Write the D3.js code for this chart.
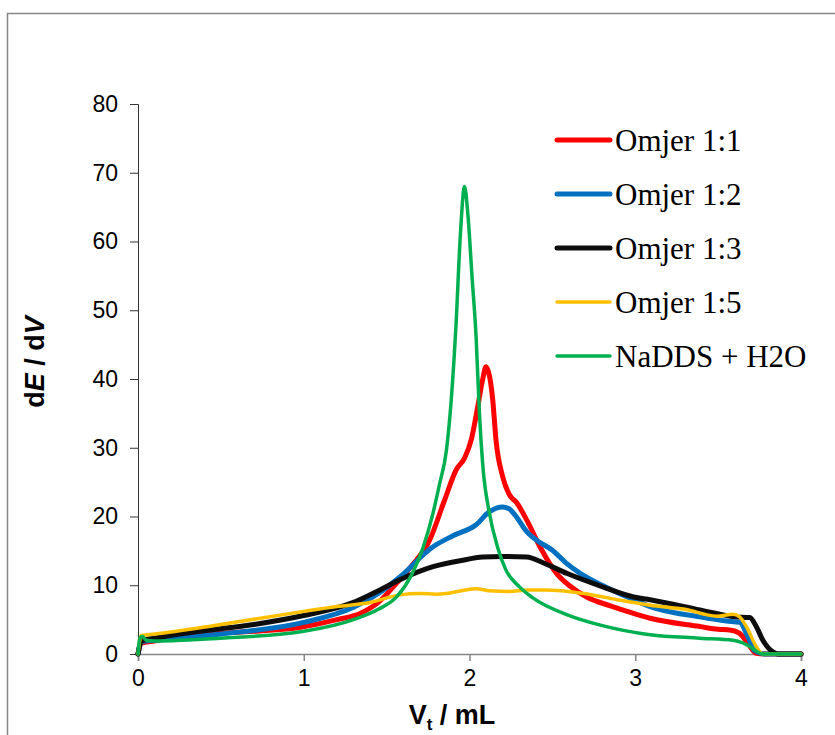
<!DOCTYPE html>
<html><head><meta charset="utf-8">
<script src="https://cdn.jsdelivr.net/npm/d3@7"></script>
<style>body{margin:0;background:#fff}</style>
</head><body>
<svg id="c" width="835" height="735"></svg>
<script>
const xTicks = [0, 1, 2, 3, 4];
const yTicks = [0, 10, 20, 30, 40, 50, 60, 70, 80];
const seriesNames = ["Omjer 1:1", "Omjer 1:2", "Omjer 1:3", "Omjer 1:5", "NaDDS + H2O"];
const seriesColors = ["#FF0000", "#0070C0", "#0D0D0D", "#FFC000", "#00B050"];
const seriesWidths = [5, 5, 5, 3.5, 3.5];

const omjer11 = [[0,0],[0.02,1.6],[0.1,1.9],[0.37,2.8],[0.7,3.3],[0.98,3.9],[1.2,5.0],[1.34,5.9],[1.45,7.5],[1.56,10.3],[1.65,12.8],[1.76,16.6],[1.85,22.4],[1.92,26.8],[1.97,28.5],[2.01,31.1],[2.05,36],[2.08,40],[2.10,41.8],[2.12,40.5],[2.14,37],[2.16,31.1],[2.20,25.8],[2.24,23.2],[2.285,22.0],[2.345,19.5],[2.425,15.6],[2.526,11.7],[2.6,10],[2.707,8.3],[2.85,7],[2.99,5.9],[3.09,5.2],[3.39,4.0],[3.5,3.6],[3.57,3.5],[3.63,3.0],[3.68,1.5],[3.73,0.1],[3.8,0],[4,0]];
const omjer12 = [[0,0],[0.02,1.8],[0.1,2.0],[0.5,2.9],[1.0,4.6],[1.3,6.8],[1.45,8.8],[1.58,11.2],[1.78,15.6],[1.9,17.2],[2.04,18.8],[2.12,20.7],[2.20,21.4],[2.24,21.1],[2.275,20.2],[2.345,17.8],[2.42,16.3],[2.50,15.1],[2.58,13.3],[2.67,11.7],[2.8,10.0],[2.99,7.9],[3.09,6.9],[3.39,5.4],[3.55,4.8],[3.63,4.6],[3.68,2.5],[3.72,0.5],[3.78,0],[4,0]];
const omjer13 = [[0,0],[0.02,1.9],[0.1,2.3],[0.37,3.3],[0.7,4.3],[1.0,5.6],[1.3,7.5],[1.45,9.2],[1.58,10.8],[1.78,12.7],[1.95,13.6],[2.08,14.1],[2.2,14.2],[2.345,14.1],[2.45,13.2],[2.59,11.7],[2.8,9.8],[2.99,8.3],[3.09,7.9],[3.39,6.4],[3.49,5.9],[3.6,5.4],[3.69,5.3],[3.73,4.0],[3.77,2.0],[3.83,0.3],[3.86,0],[4,0]];
const omjer15 = [[0,0],[0.02,2.7],[0.1,2.9],[0.5,4.3],[1.0,6.2],[1.2,6.9],[1.4,7.5],[1.58,8.6],[1.7,8.8],[1.8,8.7],[1.86,8.8],[1.95,9.2],[2.04,9.5],[2.12,9.2],[2.24,9.1],[2.35,9.3],[2.45,9.3],[2.69,8.8],[2.89,7.9],[3.09,7.1],[3.3,6.5],[3.49,5.5],[3.59,5.8],[3.63,5.4],[3.67,4.0],[3.73,1.1],[3.77,0],[4,0]];
const nadds = [[0,0],[0.01,2.2],[0.025,2.6],[0.05,2.0],[0.1,1.9],[0.5,2.3],[1.0,3.3],[1.3,5.0],[1.45,6.5],[1.56,8.3],[1.65,11.5],[1.72,15.5],[1.78,20.5],[1.82,24.8],[1.86,29.5],[1.89,37],[1.918,47.6],[1.945,61],[1.97,68],[1.99,64],[2.015,55],[2.04,46],[2.06,35],[2.08,27.5],[2.12,20.5],[2.17,15.5],[2.22,12.2],[2.3,9.8],[2.38,8.2],[2.59,5.7],[2.79,4.2],[3.09,2.8],[3.39,2.3],[3.59,2.0],[3.65,1.6],[3.69,1.1],[3.77,0],[4,0]];
const seriesData = [omjer11, omjer12, omjer13, omjer15, nadds];

const svg = d3.select("#c");
svg.append("rect").attr("x",7.5).attr("y",13.5).attr("width",900).attr("height",900)
  .attr("fill","none").attr("stroke","#868686").attr("stroke-width",1.5);

const x = d3.scaleLinear().domain([0,4]).range([138,801]);
const y = d3.scaleLinear().domain([0,80]).range([654,104]);

// axes
const gx = svg.append("g").attr("transform","translate(0,654)")
  .call(d3.axisBottom(x).tickValues(xTicks).tickSize(7).tickPadding(9).tickFormat(d3.format("d")));
gx.selectAll("path,line").attr("stroke","#868686").attr("stroke-width",1.5);
gx.selectAll("text").attr("font-family","Liberation Sans, Arial").attr("font-size",23).attr("fill","#000");

const gy = svg.append("g").attr("transform","translate(138,0)")
  .call(d3.axisLeft(y).tickValues(yTicks).tickSize(8).tickPadding(12).tickFormat(d3.format("d")));
gy.selectAll("path,line").attr("stroke","#333").attr("stroke-width",1);
gy.selectAll("text").attr("font-family","Liberation Sans, Arial").attr("font-size",23).attr("fill","#000");
gx.select("path.domain").raise();

// lines
const line = d3.line().x(d=>x(d[0])).y(d=>y(d[1])).curve(d3.curveMonotoneX);
seriesData.forEach((s,i)=>{
  svg.append("path").datum(s).attr("d",line).attr("fill","none")
    .attr("stroke",seriesColors[i]).attr("stroke-width",seriesWidths[i])
    .attr("stroke-linejoin","round").attr("stroke-linecap","round");
});

// legend
const lg = svg.append("g");
seriesNames.forEach((n,i)=>{
  const yy = 140 + i*54;
  lg.append("line").attr("x1",557).attr("x2",610).attr("y1",yy).attr("y2",yy)
    .attr("stroke",seriesColors[i]).attr("stroke-width",seriesWidths[i]).attr("stroke-linecap","round");
  lg.append("text").attr("x",615).attr("y",yy+11).text(n)
    .attr("font-family","Liberation Serif, Times New Roman").attr("font-size",31).attr("fill","#000");
});

// axis titles
const yt = svg.append("text").attr("transform","translate(44,362) rotate(-90)")
  .attr("text-anchor","middle").attr("font-family","Liberation Sans, Arial")
  .attr("font-weight","bold").attr("font-size",27).attr("fill","#000");
yt.append("tspan").text("d");
yt.append("tspan").attr("font-style","italic").text("E");
yt.append("tspan").text(" / d");
yt.append("tspan").attr("font-style","italic").text("V");

const xt = svg.append("text").attr("x",452).attr("y",724)
  .attr("text-anchor","middle").attr("font-family","Liberation Sans, Arial")
  .attr("font-weight","bold").attr("font-size",27).attr("fill","#000");
xt.append("tspan").text("V");
xt.append("tspan").attr("font-size",17).attr("dy",6).text("t");
xt.append("tspan").attr("dy",-6).text(" / mL");
</script>
</body></html>
